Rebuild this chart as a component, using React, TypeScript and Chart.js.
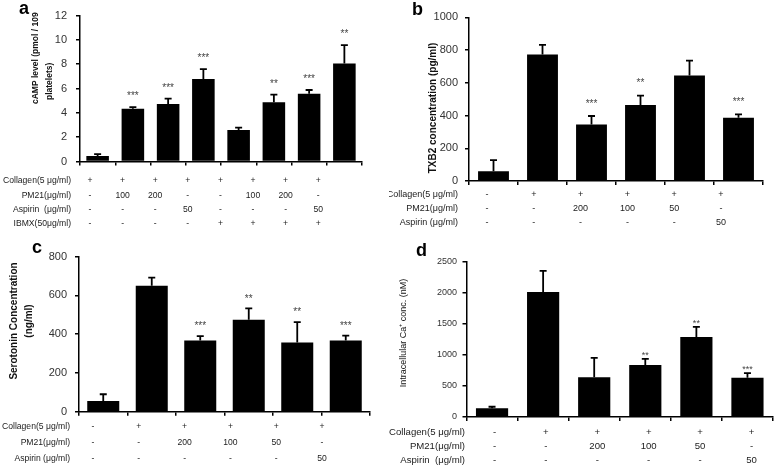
import React, { useEffect, useRef } from "react";
import { Chart, registerables } from "chart.js";

Chart.register(...registerables);

const FONT = "'Liberation Sans', Arial, sans-serif";

// ---------- Panel a: cAMP ----------
const aCategories = ["a1", "a2", "a3", "a4", "a5", "a6", "a7", "a8"];
const aValues = [0.45, 4.33, 4.72, 6.78, 2.6, 4.88, 5.58, 8.07];
const aErrors = [0.15, 0.15, 0.45, 0.82, 0.18, 0.62, 0.3, 1.5];
const aStars = ["", "***", "***", "***", "", "**", "***", "**"];
const aYTicks = { max: 12, step: 2 };
const aRowLabels = ["Collagen(5 μg/ml)", "PM21(μg/ml)", "Aspirin  (μg/ml)", "IBMX(50μg/ml)"];
const aCollagen = ["+", "+", "+", "+", "+", "+", "+", "+"];
const aPM21 = ["-", "100", "200", "-", "-", "100", "200", "-"];
const aAspirin = ["-", "-", "-", "50", "-", "-", "-", "50"];
const aIBMX = ["-", "-", "-", "-", "+", "+", "+", "+"];
const aTitle = ["cAMP level (pmol / 109", "platelets)"];

// ---------- Panel b: TXB2 ----------
const bCategories = ["b1", "b2", "b3", "b4", "b5", "b6"];
const bValues = [60, 772, 345, 465, 645, 387];
const bErrors = [68, 60, 52, 57, 90, 20];
const bStars = ["", "", "***", "**", "", "***"];
const bYTicks = { max: 1000, step: 200 };
const bRowLabels = ["Collagen(5 μg/ml)", "PM21(μg/ml)", "Aspirin (μg/ml)"];
const bCollagen = ["-", "+", "+", "+", "+", "+"];
const bPM21 = ["-", "-", "200", "100", "50", "-"];
const bAspirin = ["-", "-", "-", "-", "-", "50"];
const bTitle = ["TXB2 concentration (pg/ml)"];

// ---------- Panel c: Serotonin ----------
const cCategories = ["c1", "c2", "c3", "c4", "c5", "c6"];
const cValues = [55, 650, 368, 475, 357, 368];
const cErrors = [35, 42, 22, 58, 105, 25];
const cStars = ["", "", "***", "**", "**", "***"];
const cYTicks = { max: 800, step: 200 };
const cRowLabels = ["Collagen(5 μg/ml)", "PM21(μg/ml)", "Aspirin (μg/ml)"];
const cCollagen = ["-", "+", "+", "+", "+", "+"];
const cPM21 = ["-", "-", "200", "100", "50", "-"];
const cAspirin = ["-", "-", "-", "-", "-", "50"];
const cTitle = ["Serotonin Concentration", "(ng/ml)"];

// ---------- Panel d: Intracellular Ca ----------
const dCategories = ["d1", "d2", "d3", "d4", "d5", "d6"];
const dValues = [140, 2010, 640, 835, 1285, 630];
const dErrors = [25, 340, 310, 100, 165, 75];
const dStars = ["", "", "", "**", "**", "***"];
const dYTicks = { max: 2500, step: 500 };
const dRowLabels = ["Collagen(5 μg/ml)", "PM21(μg/ml)", "Aspirin  (μg/ml)"];
const dCollagen = ["-", "+", "+", "+", "+", "+"];
const dPM21 = ["-", "-", "200", "100", "50", "-"];
const dAspirin = ["-", "-", "-", "-", "-", "50"];
const dTitle = ["Intracellular Ca⁺ conc. (nM)"];

type PanelCfg = {
  letter: string;
  categories: string[];
  values: number[];
  errors: number[];
  stars: string[];
  yTicks: { max: number; step: number };
  rowLabels: string[];
  rows: string[][];
  title: string[];
  box: { left: number; top: number; width: number; height: number };
  area: { left: number; top: number; right: number; bottom: number };
  tickFont: number;
  tickPad: number;
  barPct: number;
  letterPos: { x: number; y: number };
  titleLayout: { x: number; y: number; align: CanvasTextAlign }[];
  titleFont: string;
  rowY: number[];
  labelRight: number;
  colStart: number;
  colStep: number;
  tableFont: number;
  starGap: number;
  starSize: number;
};

const panels: PanelCfg[] = [
  {
    letter: "a",
    categories: aCategories,
    values: aValues,
    errors: aErrors,
    stars: aStars,
    yTicks: aYTicks,
    rowLabels: aRowLabels,
    rows: [aCollagen, aPM21, aAspirin, aIBMX],
    title: aTitle,
    box: { left: 0, top: 0, width: 389, height: 235 },
    area: { left: 80, top: 7, right: 362, bottom: 161.5 },
    tickFont: 11,
    tickPad: 9,
    barPct: 0.64,
    letterPos: { x: 19, y: 14 },
    titleLayout: [
      { x: 36, y: 104, align: "left" },
      { x: 50, y: 100, align: "left" },
    ],
    titleFont: `bold 8.5px ${FONT}`,
    rowY: [181, 196, 210, 224],
    labelRight: 71,
    colStart: 10,
    colStep: 32.6,
    tableFont: 8.6,
    starGap: 13.5,
    starSize: 10,
  },
  {
    letter: "b",
    categories: bCategories,
    values: bValues,
    errors: bErrors,
    stars: bStars,
    yTicks: bYTicks,
    rowLabels: bRowLabels,
    rows: [bCollagen, bPM21, bAspirin],
    title: bTitle,
    box: { left: 389, top: 0, width: 389, height: 235 },
    area: { left: 469, top: 17.3, right: 763, bottom: 181 },
    tickFont: 11,
    tickPad: 7,
    barPct: 0.63,
    letterPos: { x: 412, y: 15 },
    titleLayout: [{ x: 433, y: 108, align: "center" }],
    titleFont: `bold 10px ${FONT}`,
    rowY: [195, 209, 223],
    labelRight: 458,
    colStart: 18,
    colStep: 46.8,
    tableFont: 9,
    starGap: 15,
    starSize: 10,
  },
  {
    letter: "c",
    categories: cCategories,
    values: cValues,
    errors: cErrors,
    stars: cStars,
    yTicks: cYTicks,
    rowLabels: cRowLabels,
    rows: [cCollagen, cPM21, cAspirin],
    title: cTitle,
    box: { left: 0, top: 235, width: 389, height: 232 },
    area: { left: 79, top: 256.7, right: 370, bottom: 411.7 },
    tickFont: 11,
    tickPad: 8,
    barPct: 0.66,
    letterPos: { x: 32, y: 253 },
    titleLayout: [
      { x: 14, y: 321, align: "center" },
      { x: 29, y: 321, align: "center" },
    ],
    titleFont: `bold 10px ${FONT}`,
    rowY: [427, 443, 459],
    labelRight: 70,
    colStart: 14,
    colStep: 45.8,
    tableFont: 8.6,
    starGap: 12.5,
    starSize: 10,
  },
  {
    letter: "d",
    categories: dCategories,
    values: dValues,
    errors: dErrors,
    stars: dStars,
    yTicks: dYTicks,
    rowLabels: dRowLabels,
    rows: [dCollagen, dPM21, dAspirin],
    title: dTitle,
    box: { left: 389, top: 235, width: 389, height: 232 },
    area: { left: 466.5, top: 261.5, right: 773, bottom: 417 },
    tickFont: 9,
    tickPad: 5.5,
    barPct: 0.63,
    letterPos: { x: 416, y: 256 },
    titleLayout: [{ x: 404, y: 333, align: "center" }],
    titleFont: `9px ${FONT}`,
    rowY: [432, 446, 460],
    labelRight: 465,
    colStart: 28,
    colStep: 51.4,
    tableFont: 9.6,
    starGap: 6,
    starSize: 9,
  },
];

function makePlugin(cfg: PanelCfg) {
  const ox = cfg.box.left;
  const oy = cfg.box.top;
  return {
    id: "annot-" + cfg.letter,
    afterDraw(chart: any) {
      const ctx: CanvasRenderingContext2D = chart.ctx;
      const meta = chart.getDatasetMeta(0);
      const ys = chart.scales.y;
      const xs = chart.scales.x;
      ctx.save();
      ctx.strokeStyle = "#000";
      ctx.lineWidth = 1.8;
      cfg.values.forEach((v, i) => {
        const bar = meta.data[i];
        if (!bar) return;
        const x = bar.x;
        const y0 = ys.getPixelForValue(v);
        const y1 = ys.getPixelForValue(v + cfg.errors[i]);
        ctx.beginPath();
        ctx.moveTo(x, y0);
        ctx.lineTo(x, y1);
        ctx.moveTo(x - 3.5, y1);
        ctx.lineTo(x + 3.5, y1);
        ctx.stroke();
        const s = cfg.stars[i];
        if (s) {
          ctx.fillStyle = "#444";
          ctx.font = `${cfg.starSize}px ${FONT}`;
          ctx.textAlign = "center";
          ctx.textBaseline = "alphabetic";
          const cy = y1 - cfg.starGap;
          ctx.fillText(s, x, cy + 0.575 * cfg.starSize);
        }
      });
      ctx.fillStyle = "#000";
      ctx.font = `bold 18px ${FONT}`;
      ctx.textAlign = "left";
      ctx.textBaseline = "alphabetic";
      ctx.fillText(cfg.letter, cfg.letterPos.x - ox, cfg.letterPos.y - oy);
      ctx.font = cfg.titleFont;
      ctx.fillStyle = "#111";
      cfg.title.forEach((t, k) => {
        const L = cfg.titleLayout[k];
        ctx.save();
        ctx.translate(L.x - ox, L.y - oy);
        ctx.rotate(-Math.PI / 2);
        ctx.textAlign = L.align;
        ctx.textBaseline = "middle";
        ctx.fillText(t, 0, 0);
        ctx.restore();
      });
      ctx.font = `${cfg.tableFont}px ${FONT}`;
      ctx.fillStyle = "#222";
      ctx.textBaseline = "middle";
      cfg.rowLabels.forEach((lab, r) => {
        const y = cfg.rowY[r] - oy;
        ctx.textAlign = "right";
        ctx.fillText(lab, cfg.labelRight - ox, y);
        ctx.textAlign = "center";
        cfg.rows[r].forEach((val, i) => {
          const x = xs.left + cfg.colStart + i * cfg.colStep;
          ctx.fillText(val, x, y);
        });
      });
      ctx.restore();
    },
  };
}

function Panel({ cfg }: { cfg: PanelCfg }) {
  const ref = useRef<HTMLCanvasElement>(null);
  useEffect(() => {
    const ox = cfg.box.left;
    const oy = cfg.box.top;
    const a = cfg.area;
    const chart = new Chart(ref.current as HTMLCanvasElement, {
      type: "bar",
      data: {
        labels: cfg.categories,
        datasets: [
          {
            data: cfg.values,
            backgroundColor: "#000",
            borderWidth: 0,
            barPercentage: cfg.barPct,
            categoryPercentage: 1,
          },
        ],
      },
      options: {
        responsive: false,
        animation: false,
        devicePixelRatio: 1,
        layout: {
          padding: {
            left: 0,
            top: a.top - oy,
            right: ox + cfg.box.width - a.right,
            bottom: 0,
          },
        },
        plugins: {
          legend: { display: false },
          tooltip: { enabled: false },
          title: { display: false },
        },
        scales: {
          x: {
            type: "category",
            offset: true,
            grid: {
              display: true,
              offset: true,
              drawOnChartArea: false,
              drawTicks: true,
              tickLength: 4,
              color: "#000",
              lineWidth: 1.5,
            },
            border: { display: true, color: "#000", width: 1.5 },
            ticks: { display: false },
            afterFit: (s: any) => {
              s.height = oy + cfg.box.height - a.bottom;
            },
          },
          y: {
            min: 0,
            max: cfg.yTicks.max,
            ticks: {
              stepSize: cfg.yTicks.step,
              color: "#333",
              padding: cfg.tickPad,
              font: { family: FONT, size: cfg.tickFont },
              callback: (v: any) => String(v),
            },
            grid: {
              display: true,
              drawOnChartArea: false,
              drawTicks: true,
              tickLength: 4,
              color: "#000",
              lineWidth: 1.5,
            },
            border: { display: true, color: "#000", width: 1.5 },
            afterFit: (s: any) => {
              s.width = a.left - ox;
            },
          },
        },
      } as any,
      plugins: [makePlugin(cfg)],
    });
    return () => chart.destroy();
  }, [cfg]);
  return (
    <canvas
      ref={ref}
      width={cfg.box.width}
      height={cfg.box.height}
      style={{
        position: "absolute",
        left: cfg.box.left,
        top: cfg.box.top,
        width: cfg.box.width,
        height: cfg.box.height,
      }}
    />
  );
}

export default function App() {
  return (
    <div
      style={{
        position: "absolute",
        left: 0,
        top: 0,
        width: 778,
        height: 467,
        background: "#fff",
        overflow: "hidden",
      }}
    >
      {panels.map((p) => (
        <Panel key={p.letter} cfg={p} />
      ))}
    </div>
  );
}
